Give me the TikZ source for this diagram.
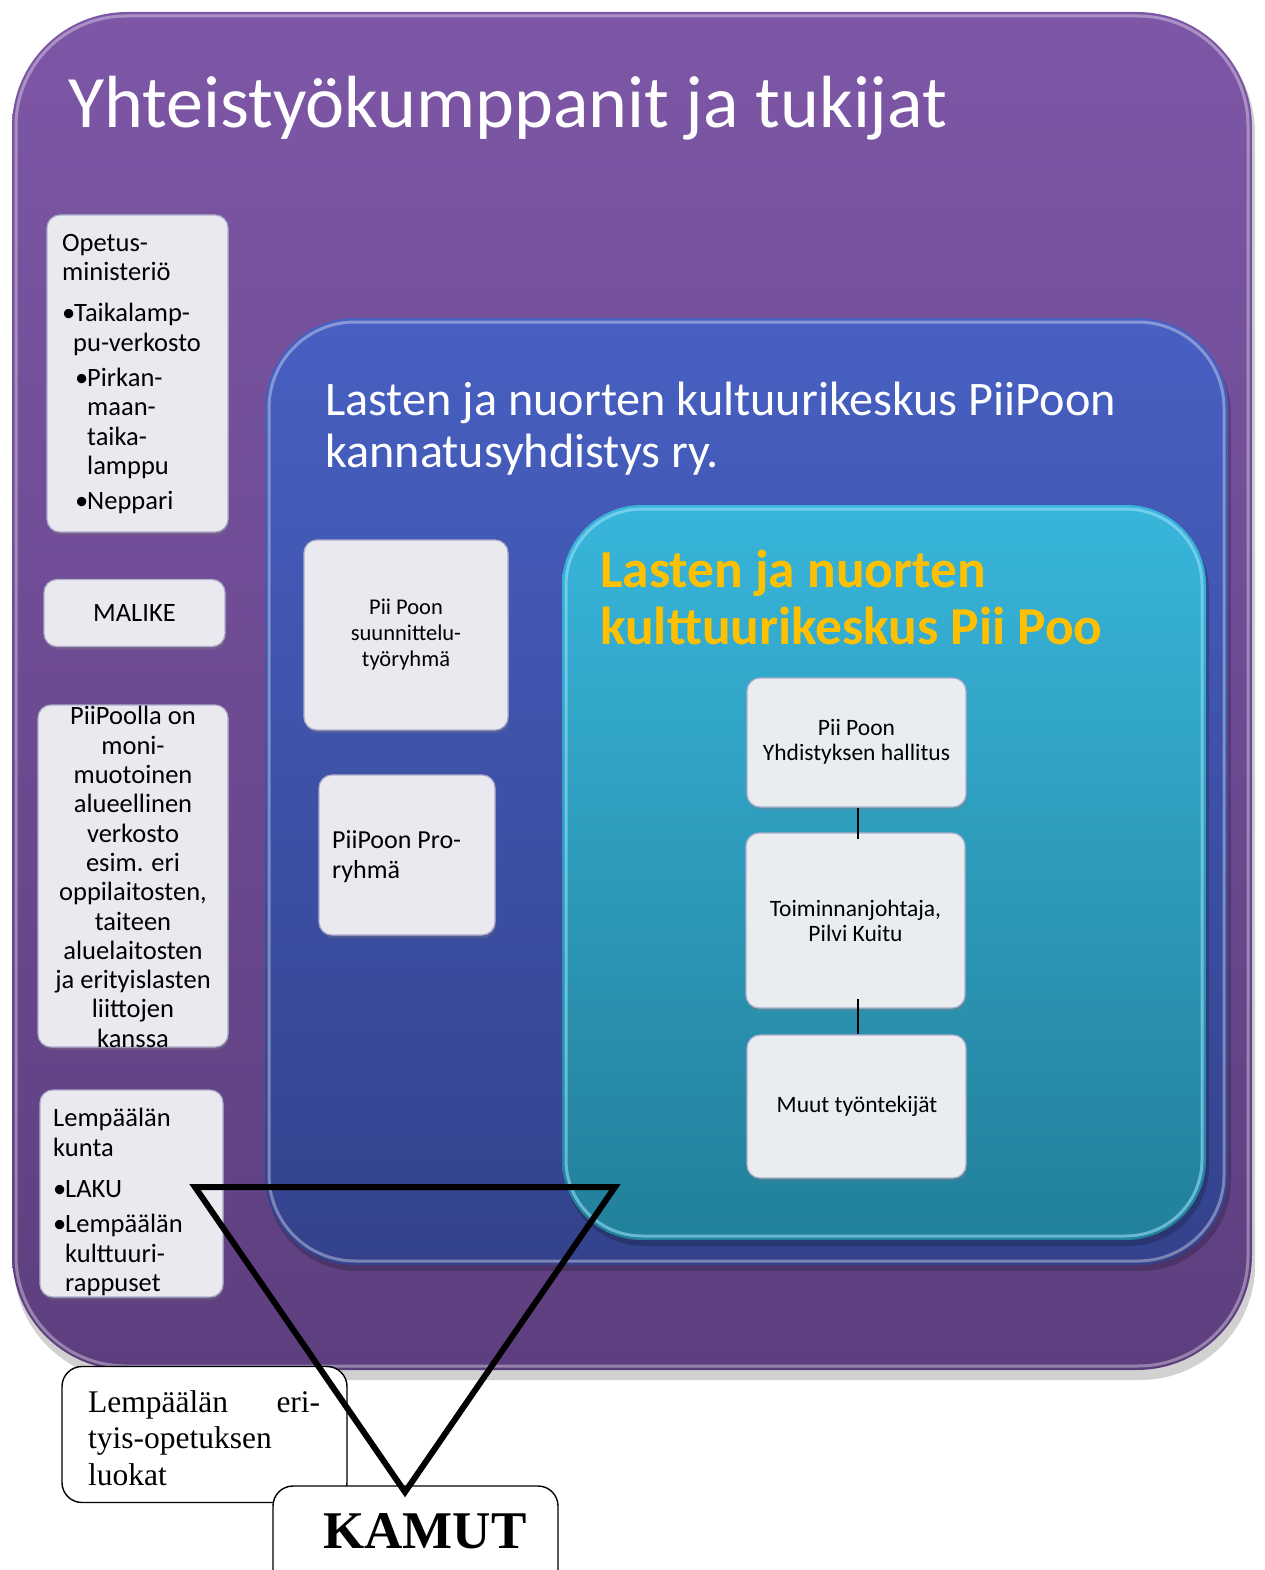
\documentclass[tikz,border=0pt]{standalone}
\usepackage{fontspec}
\setmainfont{Carlito}
\newfontfamily\timesfont{Liberation Serif}
\usetikzlibrary{shadows}
\definecolor{purpT}{HTML}{7D57A6}
\definecolor{purpB}{HTML}{5D3F7F}
\definecolor{blueT}{HTML}{4760C2}
\definecolor{blueB}{HTML}{34428C}
\definecolor{tealT}{HTML}{38B5DB}
\definecolor{tealB}{HTML}{22809A}
\definecolor{boxfill}{HTML}{EAE9EF}
\definecolor{boxfillB}{HTML}{E9EDF0}
\definecolor{gold}{HTML}{FFC000}
\newcommand\mybul{\makebox[12pt][l]{•}}
\begin{document}
\begin{tikzpicture}[x=1pt,y=-1pt,
  bigbox/.style={inner sep=0pt, minimum width=#1},
  pale/.style={draw=white!80!blue!60!gray, line width=1.2pt, fill=boxfill, rounded corners=13pt, inner sep=0pt,
     drop shadow={shadow xshift=1pt, shadow yshift=-3pt, opacity=.3}},
  paleB/.style={pale, fill=boxfillB},
  txt/.style={inner sep=0pt, text=black},
  side/.style={txt, font=\fontsize{26.5}{29.3}\selectfont},
  mid/.style={txt, font=\fontsize{23.5}{25.5}\selectfont, align=center},
  glow/.style={draw=white, opacity=.35, line width=3pt},
  conn/.style={draw=black, line width=1.3pt},
  plain/.style={draw=black, line width=1.4pt, fill=white, rounded corners=20pt, inner sep=0pt},
]
\useasboundingbox (0,0) rectangle (1264,1570);
\fill[white] (0,0) rectangle (1264,1570);

% outer purple panel
\fill[black, opacity=.18, rounded corners=115pt] (14,18) rectangle (1255,1380);
\node[bigbox=1240pt, minimum height=1358pt, top color=purpT, bottom color=purpB, rounded corners=115pt] (outer) at (632,691) {};
\draw[glow, rounded corners=110pt] (16,16) rectangle (1248,1366);
\node[anchor=base west, inner sep=0pt, text=white, font=\fontsize{74}{88}\selectfont] (title) at (68,128) {Yhteistyökumppanit ja tukijat};

% blue panel
\fill[black, opacity=.2, rounded corners=90pt] (267,324) rectangle (1231,1271);
\node[bigbox=963pt, minimum height=947pt, top color=blueT, bottom color=blueB, rounded corners=90pt] (blue) at (746.5,791.5) {};
\draw[glow, rounded corners=86pt] (269,322) rectangle (1224,1261);
\node[anchor=base west, inner sep=0pt, text=white, font=\fontsize{48.2}{52}\selectfont] (btitleA) at (325,415) {Lasten ja nuorten kultuurikeskus PiiPoon};
\node[anchor=base west, inner sep=0pt, text=white, font=\fontsize{48.2}{52}\selectfont] (btitleB) at (325,467) {kannatusyhdistys ry.};

% teal panel
\fill[black, opacity=.2, rounded corners=80pt] (564,511) rectangle (1209,1246);
\node[bigbox=644pt, minimum height=735pt, top color=tealT, bottom color=tealB, rounded corners=80pt] (teal) at (884,872.5) {};
\draw[draw=cyan!40!white, opacity=.6, line width=3pt, rounded corners=76pt] (566,509) rectangle (1202,1236);
\node[anchor=base west, inner sep=0pt, text=gold, font=\fontsize{53.4}{57}\bfseries\selectfont] (ttitleA) at (600,587) {Lasten ja nuorten};
\node[anchor=base west, inner sep=0pt, text=gold, font=\fontsize{53.4}{57}\bfseries\selectfont] (ttitleB) at (600,644) {kulttuurikeskus Pii Poo};

% left column boxes
\node[pale, minimum width=181pt, minimum height=317pt] (opetus) at (137.5,373.5) {};
\node[side, anchor=west, align=left] (opetusT) at (62,374) {Opetus-\\ministeriö\\[12pt]
\mybul Taikalamp-\\\hspace*{11pt}pu-verkosto\\[6pt]
\hspace*{13pt}\mybul Pirkan-\\\hspace*{25pt}maan-\\\hspace*{25pt}taika-\\\hspace*{25pt}lamppu\\[6pt]
\hspace*{13pt}\mybul Neppari};

\node[pale, minimum width=181pt, minimum height=67pt] (malike) at (134.5,613) {};
\node[side] (malikeT) at (134.5,613) {MALIKE};

\node[pale, minimum width=190pt, minimum height=342pt] (piipoolla) at (133,876) {};
\node[side, align=center] (piipoollaT) at (133,877) {PiiPoolla on\\moni-\\muotoinen\\alueellinen\\verkosto\\esim. eri\\oppilaitosten,\\taiteen\\aluelaitosten\\ja erityislasten\\liittojen\\kanssa};

\node[pale, minimum width=183pt, minimum height=207pt] (lempaala) at (131.5,1193.5) {};
\node[side, anchor=west, align=left] (lempaalaT) at (53,1202) {Lempäälän\\kunta\\[12pt]
\mybul LAKU\\[6pt]
\mybul Lempäälän\\\hspace*{12pt}kulttuuri-\\\hspace*{12pt}rappuset};

% middle boxes
\node[pale, minimum width=204pt, minimum height=190pt] (suunn) at (406,635) {};
\node[txt, font=\fontsize{22.5}{26}\selectfont, align=center] (suunnT) at (406,635) {Pii Poon\\suunnittelu-\\työryhmä};

\node[pale, minimum width=176pt, minimum height=160pt] (pro) at (407,855) {};
\node[txt, font=\fontsize{26}{30}\selectfont, align=left, anchor=west] (proT) at (332,857) {PiiPoon Pro-\\ryhmä};

% teal inner boxes
\node[paleB, minimum width=219pt, minimum height=129pt] (hall) at (856.5,742.5) {};
\node[mid] (hallT) at (856.5,742) {Pii Poon\\Yhdistyksen hallitus};
\node[paleB, minimum width=219pt, minimum height=175pt] (toim) at (855.5,920.5) {};
\node[mid] (toimT) at (855.5,921) {Toiminnanjohtaja,\\Pilvi Kuitu};
\node[paleB, minimum width=219pt, minimum height=143pt] (muut) at (856.5,1106.5) {};
\node[mid] (muutT) at (857,1106) {Muut työntekijät};
\draw[conn] (hall.south -| 858,0) -- ([yshift=-7pt]toim.north -| 858,0);
\draw[conn] ([yshift=10pt]toim.south -| 858,0) -- (muut.north -| 858,0);

% bottom white boxes
\node[plain, minimum width=285pt, minimum height=136pt] (erityis) at (204.5,1434.5) {};
\node[txt, anchor=west, align=left, font=\timesfont\fontsize{31.5}{36.5}\selectfont] (erityisT) at (88,1438) {\makebox[232pt][s]{Lempäälän\hfill eri-}\\tyis-opetuksen\\luokat};
\node[plain, minimum width=285pt, minimum height=120pt] (kamut) at (415.5,1546) {};
\node[txt, font=\timesfont\bfseries\fontsize{53}{60}\selectfont] (kamutT) at (425,1531) {KAMUT};

% triangle
\coordinate (triL) at (195,1187);
\coordinate (triR) at (615,1187);
\coordinate (triB) at (405,1492);
\draw[line width=6pt, miter limit=10] (triL) -- (triR) -- (triB) -- cycle;
\end{tikzpicture}
\end{document}
